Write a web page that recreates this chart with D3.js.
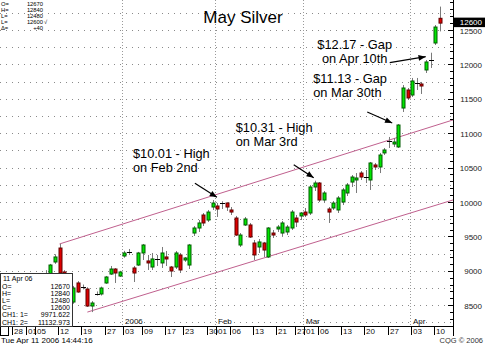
<!DOCTYPE html>
<html><head><meta charset="utf-8">
<script src="https://cdn.jsdelivr.net/npm/d3@7"></script>
<style>body{margin:0;background:#fff}svg{display:block}text{font-family:"Liberation Sans",Arial,sans-serif}</style>
</head><body>
<svg id="c" width="485" height="344"></svg>
<script>
// ---- data ----
const firstDay = "2005-11-28", lastDay = "2006-04-11";
const holidays = ["2005-12-26","2006-01-02","2006-01-16","2006-02-20"];
const open  = [8300,8350,8400,8460,8520,8570,8680,8760,8920,9128,9331,8983,8880,8546,8823,8765,8735,8488,8670,8663,8823,8953,9026,8924,
 9215,9273,9041,9084,9259,9143,9055,9172,9114,9201,9055,9055,9230,9157,9084,9549,9622,9811,9738,9927,
 9942,9990,9985,9884,9767,9375,9666,9666,9404,9346,9404,9201,9549,9608,9549,9564,9622,9767,9797,
 9854,9840,10218,10276,10029,9898,9913,9884,10000,10131,10290,10320,10421,10363,10320,10538,10509,10713,10887,10843,10800,11366,11628,
 11555,11730,11715,11919,12064,12311,12670];
const high  = [8380,8420,8480,8560,8600,8700,8800,9010,9100,9240,9390,9010,8900,8780,8850,8800,8760,8560,8700,8770,8925,9070,9040,9000,
 9290,9317,9070,9275,9390,9230,9259,9230,9346,9288,9070,9288,9259,9200,9390,9650,9738,9840,9884,10029,
 9985,10010,9995,9927,9797,9549,9782,9695,9448,9462,9420,9636,9593,9666,9724,9666,9884,9811,9854,
 9913,10247,10310,10290,10160,9927,10014,10087,10204,10276,10392,10421,10450,10465,10582,10567,10713,10785,10945,10930,11133,11700,11657,
 11803,11803,11745,12064,12170,12572,12840];
const low   = [8260,8320,8370,8430,8480,8540,8650,8740,8900,9100,8940,8850,8530,8520,8680,8730,8474,8400,8640,8640,8810,8940,8823,8910,
 9190,9230,8837,9070,9157,9012,9012,9070,9041,9070,8910,9026,8968,9130,9026,9506,9564,9651,9709,9884,
 9782,9898,9870,9811,9506,9346,9651,9477,9157,9259,9201,9186,9477,9564,9506,9520,9593,9636,9738,
 9782,9811,10160,10000,9985,9695,9884,9840,9956,10087,10218,10131,10320,10276,10175,10465,10421,10683,10785,10800,10785,11308,11483,
 11526,11628,11570,11875,11948,12282,12480];
const close = [8350,8400,8460,8520,8570,8680,8760,8950,9084,9201,8968,8870,8560,8750,8692,8760,8488,8532,8665,8750,8910,9026,8968,8983,
 9259,9270,8968,9259,9375,9114,9172,9168,9259,9172,8997,9259,9012,9186,9375,9622,9695,9695,9854,9985,
 9898,9985,9927,9854,9520,9520,9753,9491,9230,9419,9302,9622,9520,9636,9695,9636,9854,9709,9840,
 9811,10218,10276,10029,10131,9854,9985,10058,10175,10247,10363,10349,10363,10360,10567,10509,10683,10756,10880,10872,11119,11657,11512,
 11759,11735,11686,12035,12060,12543,12600];
const xTickDates = ["2005-11-28","2005-12-01","2005-12-05","2005-12-12","2005-12-19","2005-12-27","2006-01-03","2006-01-09","2006-01-17","2006-01-23","2006-01-30","2006-02-01","2006-02-06","2006-02-13","2006-02-21","2006-02-27","2006-03-01","2006-03-06","2006-03-13","2006-03-20","2006-03-27","2006-04-03","2006-04-10"];
const monthDates = ["2006-01-03","2006-02-01","2006-03-01","2006-04-03"];
const monthLabels = ["2006","Feb","Mar","Apr"];
const yTickValues = [8500,9000,9500,10000,10500,11000,11500,12000,12500];
const channelUpper = [["2005-12-12",9390],["2006-04-11",11132.973]];
const channelLower = [["2005-12-20",8400],["2006-04-11",9971.622]];
const notes = [
  {date:"2006-02-02", price:10010, lines:["$10.01 - High","on Feb 2nd"]},
  {date:"2006-03-03", price:10310, lines:["$10.31 - High","on Mar 3rd"]},
  {date:"2006-03-29", price:11133, lines:["$11.13 - Gap","on Mar 30th"]},
  {date:"2006-04-07", price:12170, lines:["$12.17 - Gap","on Apr 10th"]}
];
const lastBox = {title:"11 Apr 06", rows:[["O=","12670"],["H=","12840"],["L=","12480"],["C=","12600"],["CH1: 1=","9971.622"],["CH1: 2=","11132.973"]]};
const topBox = [["O=","12670"],["H=","12840"],["L=","12480"],["L=","12600"],["\u0394=","+40"]];

// ---- trading calendar ----
const fmt = d3.utcFormat("%Y-%m-%d");
const dates = d3.utcDay.range(new Date(firstDay+"T00:00Z"), d3.utcDay.offset(new Date(lastDay+"T00:00Z"),1))
  .filter(d => d.getUTCDay()!==0 && d.getUTCDay()!==6 && !holidays.includes(fmt(d))).map(fmt);
const bars = dates.map((d,i)=>({d,o:open[i],h:high[i],l:low[i],c:close[i]}));

// ---- layout ----
const PR = 453, PB = 326;
const svg = d3.select("#c");
const x = d3.scaleBand().domain(dates).range([10.8, 442.3]).paddingInner(0);
const cx = d => x(d) + x.bandwidth()/2;
const y = d3.scaleLinear().domain([8500,12500]).range([305.2,30]);
const idx = d => dates.indexOf(d);

// grid
const grid = svg.append("g");
d3.range(8250, 12900, 250).forEach(v=>{
  grid.append("line").attr("x1",0).attr("x2",PR).attr("y1",Math.round(y(v))+0.5).attr("y2",Math.round(y(v))+0.5)
    .attr("stroke","#8a8a8a").attr("stroke-dasharray","1,5");
});
monthDates.forEach(d=>{
  const xx = Math.round(x(d))+0.5;
  grid.append("line").attr("x1",xx).attr("x2",xx).attr("y1",0).attr("y2",PB).attr("stroke","#9a9a9a").attr("stroke-dasharray","1,2");
});

// channel lines (extended to right edge)
function chan(pts){
  const i0 = idx(pts[0][0]), i1 = idx(pts[1][0]);
  const slope = (pts[1][1]-pts[0][1])/(i1-i0);
  const iEnd = i0 + (PR - cx(pts[0][0]))/x.step();
  const vEnd = pts[0][1] + slope*(iEnd-i0);
  svg.append("line").attr("x1",cx(pts[0][0])).attr("y1",y(pts[0][1])).attr("x2",PR).attr("y2",y(vEnd))
    .attr("stroke","#c0608e").attr("stroke-width",1);
}
chan(channelUpper); chan(channelLower);

// candles
const cg = svg.append("g");
bars.forEach(b=>{
  const xc = Math.round(cx(b.d))+0.5;
  cg.append("line").attr("x1",xc).attr("x2",xc).attr("y1",y(b.h)).attr("y2",y(b.l)).attr("stroke","#7a7a7a");
  const yt = y(Math.max(b.o,b.c)), yb = y(Math.min(b.o,b.c));
  if (yb-yt < 1.3){
    cg.append("line").attr("x1",xc-2.5).attr("x2",xc+2.5).attr("y1",Math.round(yt)+0.5).attr("y2",Math.round(yt)+0.5).attr("stroke","#000");
  } else {
    const up = b.c>=b.o;
    cg.append("rect").attr("x",xc-1.5).attr("width",3).attr("y",yt).attr("height",yb-yt)
      .attr("fill",up?"#00e600":"#dd0000").attr("stroke",up?"#005a00":"#600000").attr("stroke-width",1);
  }
});

// annotations
const defs = svg.append("defs");
defs.append("marker").attr("id","ah").attr("viewBox","0 0 10 10").attr("refX",10).attr("refY",5)
  .attr("markerWidth",7).attr("markerHeight",6).attr("orient","auto")
  .append("path").attr("d","M0,1 L10,5 L0,9 z").attr("fill","#000");
const arrowOff = [[-5,-4,-22,-14],[-1,-3,-20,-13],[-6,-1,-25,-11],[-5,4,-36,6]];
const textPos = [[-89,-29,"start"],[-79,-35,"start"],[-85,-27,"start"],[-76,10,"middle"]];
notes.forEach((n,k)=>{
  const tx = cx(n.date), ty = y(n.price);
  const [ex,ey,sx,sy] = arrowOff[k];
  svg.append("line").attr("x1",tx+ex+sx).attr("y1",ty+ey+sy).attr("x2",tx+ex).attr("y2",ty+ey)
    .attr("stroke","#000").attr("stroke-width",1.2).attr("marker-end","url(#ah)");
  const [ox,oy,anc] = textPos[k];
  n.lines.forEach((t,j)=>{
    svg.append("text").attr("x",tx+ox).attr("y",ty+oy-14+j*14).attr("text-anchor",anc)
      .attr("font-size",12.8).attr("fill","#000").text(t);
  });
});

// title
svg.append("text").attr("x",243).attr("y",23).attr("text-anchor","middle").attr("font-size",17).text("May Silver");

// right axis
svg.append("rect").attr("x",PR+1).attr("y",0).attr("width",485-PR-1).attr("height",PB).attr("fill","#fff");
svg.append("line").attr("x1",PR+0.5).attr("x2",PR+0.5).attr("y1",0).attr("y2",PB+10).attr("stroke","#000");
d3.range(8200, 12950, 100).forEach(v=>{
  const yy = Math.round(y(v))+0.5;
  const major = v%500===0;
  svg.append("line").attr("x1",PR-(major?5:3)).attr("x2",PR).attr("y1",yy).attr("y2",yy).attr("stroke","#000");
});
yTickValues.forEach(v=>{
  svg.append("text").attr("x",482).attr("y",y(v)+3.5).attr("text-anchor","end").attr("font-size",8).attr("fill","#222").text(v);
});
const last = bars[bars.length-1];
svg.append("rect").attr("x",PR+1).attr("y",y(last.c)-5.5).attr("width",485-PR-1).attr("height",9.5).attr("fill","#000");
svg.append("text").attr("x",482).attr("y",y(last.c)+2).attr("text-anchor","end").attr("font-size",8).attr("fill","#fff").text(last.c);

// bottom axis
svg.append("line").attr("x1",0).attr("x2",PR).attr("y1",PB+0.5).attr("y2",PB+0.5).attr("stroke","#000");
svg.append("rect").attr("x",0.5).attr("y",PB+0.5).attr("width",8).attr("height",9).attr("fill","none").attr("stroke","#000");
xTickDates.forEach(d=>{
  const xx = Math.round(x(d))+1.5;
  svg.append("line").attr("x1",xx).attr("x2",xx).attr("y1",PB).attr("y2",PB+9).attr("stroke","#000");
  svg.append("text").attr("x",xx+1.5).attr("y",PB+8).attr("font-size",8).attr("fill","#111").text(d.slice(8,10));
});
monthDates.forEach((d,k)=>{
  svg.append("text").attr("x",Math.round(x(d))+3).attr("y",PB-2).attr("font-size",8).attr("fill","#111").text(monthLabels[k]);
});

// info box bottom-left
const bx = svg.append("g");
bx.append("rect").attr("x",0.5).attr("y",273.5).attr("width",72).attr("height",PB-273).attr("fill","#fff").attr("stroke","#333");
bx.append("text").attr("x",3).attr("y",281).attr("font-size",7).text(lastBox.title);
lastBox.rows.forEach((r,j)=>{
  const yy = 288.5 + j*7.2;
  bx.append("text").attr("x",2).attr("y",yy).attr("font-size",7).text(r[0]);
  bx.append("text").attr("x",70).attr("y",yy).attr("font-size",7).attr("text-anchor","end").text(r[1]);
});

// info top-left
topBox.forEach((r,j)=>{
  const yy = 6 + j*5.9;
  svg.append("text").attr("x",1).attr("y",yy).attr("font-size",5.8).text(r[0]);
  svg.append("text").attr("x",43).attr("y",yy).attr("font-size",5.8).attr("text-anchor","end").text(r[1]);
});
svg.append("text").attr("x",44).attr("y",23.7).attr("font-size",5.8).text("\u221A");

// status bar
svg.append("text").attr("x",1).attr("y",343).attr("font-size",8).text("Tue Apr 11 2006 14:44:16");
svg.append("text").attr("x",483).attr("y",343).attr("font-size",7.5).attr("text-anchor","end").attr("fill","#333").text("CQG \u00A9 2006");
</script>
</body></html>
